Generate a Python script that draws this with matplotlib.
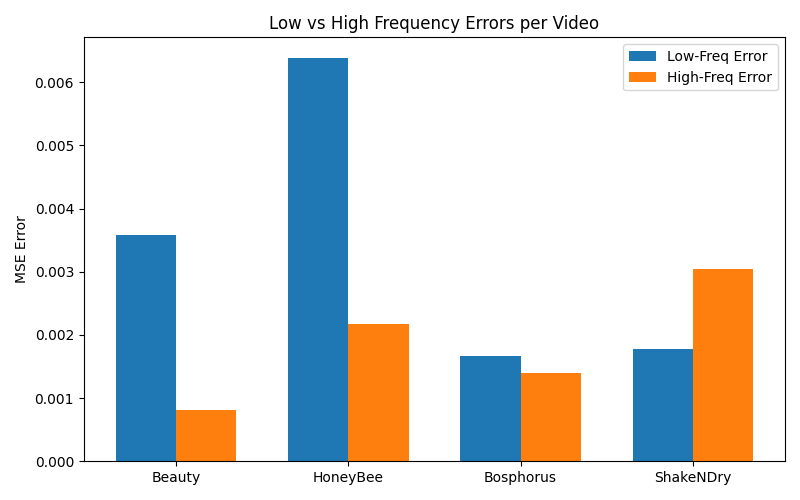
import matplotlib
matplotlib.use("Agg")
import matplotlib.pyplot as plt
import numpy as np

videos = ["Beauty", "HoneyBee", "Bosphorus", "ShakeNDry"]
low_freq = [0.00358, 0.00639, 0.00166, 0.00177]
high_freq = [0.00081, 0.00217, 0.00139, 0.00304]

x = np.arange(len(videos))
width = 0.35

fig, ax = plt.subplots(figsize=(8, 5), dpi=100)
ax.bar(x - width / 2, low_freq, width, label="Low-Freq Error")
ax.bar(x + width / 2, high_freq, width, label="High-Freq Error")
ax.set_xticks(x)
ax.set_xticklabels(videos)
ax.set_ylabel("MSE Error")
ax.set_title("Low vs High Frequency Errors per Video")
ax.legend()
fig.tight_layout()
fig.savefig("out.png")
